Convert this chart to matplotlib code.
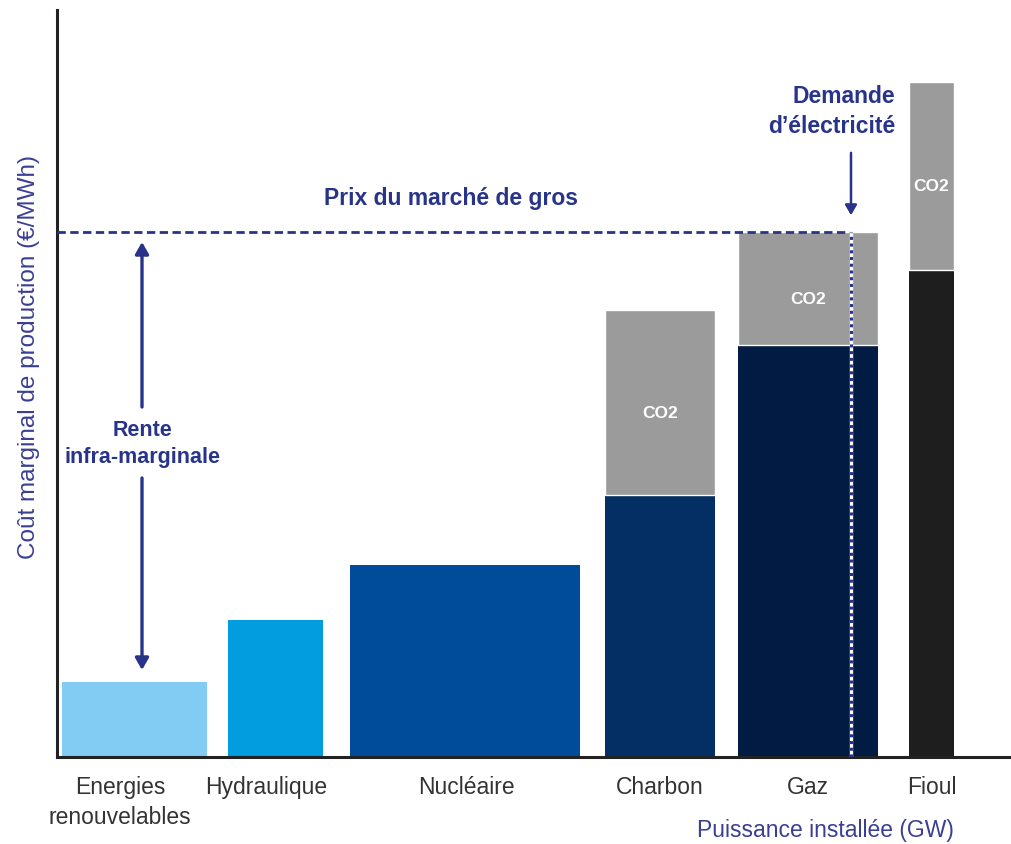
import matplotlib
matplotlib.use("Agg")
import matplotlib.pyplot as plt
import numpy as np

plt.rcParams['font.family'] = ['Liberation Sans', 'DejaVu Sans']

# --- data (arbitrary units) ---
categories = ["Energies\nrenouvelables", "Hydraulique", "Nucléaire", "Charbon", "Gaz", "Fioul"]
capacity_gw = [29, 19, 46, 22, 28, 9]          # bar widths
cost_base = [15, 27.5, 38.5, 52.5, 82.5, 97.5]  # marginal cost without CO2
cost_co2 = [0, 0, 0, 37, 22.5, 37.5]            # CO2 add-on
market_price = 105
demand_gw = 158.8

bar_colors = ["#82CBF2", "#019DDF", "#004C9A", "#032F64", "#021B42", "#1E1E1E"]
co2_color = "#9B9B9B"
navy = "#28348A"
label_blue = "#3B3F93"

# white space before each bar, and label shift (style only)
gaps = [1, 4.2, 5.4, 5, 4.6, 6.2]
label_shift = [-2.9, -1.9, 0.3, 0, 0, 0]

lefts = []
x = 0.0
for g, w in zip(gaps, capacity_gw):
    x += g
    lefts.append(x)
    x += w
lefts = np.array(lefts)
widths = np.array(capacity_gw)
centers = lefts + widths / 2

fig = plt.figure(figsize=(10.12, 8.44), dpi=100)
ax = fig.add_axes([57 / 1012, 87 / 844, 955 / 1012, 747 / 844])

ax.bar(lefts, cost_base, width=widths, align="edge", color=bar_colors, zorder=2)
has_co2 = [c > 0 for c in cost_co2]
ax.bar(lefts[has_co2], np.array(cost_co2)[has_co2], width=widths[has_co2],
       bottom=np.array(cost_base)[has_co2], align="edge", color=co2_color,
       edgecolor="white", linewidth=1.0, zorder=2)
for cx, b, c in zip(centers, cost_base, cost_co2):
    if c > 0:
        ax.text(cx, b + c / 2 - 2.2, "CO2", color="white", fontsize=12.5, fontweight="bold",
                ha="center", va="center", zorder=3)

# market price line and demand line
ax.plot([0, demand_gw], [market_price, market_price], color=navy, lw=2,
        ls=(0, (3, 1.6)), zorder=4)
ax.plot([demand_gw, demand_gw], [0, market_price], color="white", lw=2.4, zorder=4)
ax.plot([demand_gw, demand_gw], [0, market_price], color=navy, lw=2.2,
        ls=(0, (1, 1.2)), zorder=5)
ax.text(78.8, market_price + 6.6, "Prix du marché de gros",
        color=navy, fontsize=16.5, fontweight="bold", ha="center", va="center")

# demand annotation
ax.annotate("", xy=(demand_gw, market_price + 2.8), xytext=(demand_gw, 121.4),
            arrowprops=dict(arrowstyle="-|>,head_width=0.35,head_length=0.6",
                            color=navy, lw=1.8))
ax.text(demand_gw + 8.8, 123.8, "Demande\nd\u2019électricité", color=navy,
        fontsize=16.5, fontweight="bold", ha="right", va="bottom", linespacing=1.4)

# infra-marginal rent
rx = 17
arrow_kw = dict(arrowstyle="-|>,head_width=0.4,head_length=0.7",
                color=navy, lw=2.4, shrinkA=0, shrinkB=0)
ax.annotate("", xy=(rx, market_price - 2), xytext=(rx, 70), arrowprops=arrow_kw)
ax.annotate("", xy=(rx, cost_base[0] + 2.4), xytext=(rx, 55.8), arrowprops=arrow_kw)
ax.text(rx, 62.6, "Rente\ninfra-marginale", color=navy, fontsize=15.5,
        fontweight="bold", ha="center", va="center", linespacing=1.35)

ax.set_xlim(0, 191)
ax.set_ylim(0, 149.4)
ax.set_xticks(centers + np.array(label_shift))
ax.set_xticklabels(categories, fontsize=16.5, color="#333333", linespacing=1.35)
ax.set_yticks([])
ax.tick_params(axis="x", length=0, pad=14)
for s in ["top", "right"]:
    ax.spines[s].set_visible(False)
for s in ["left", "bottom"]:
    ax.spines[s].set_color("#222222")
    ax.spines[s].set_linewidth(2.2)

ax.set_ylabel("Coût marginal de production (€/MWh)", fontsize=17.5, color=label_blue)
ax.yaxis.set_label_coords(-0.018, 0.535)
ax.set_xlabel("Puissance installée (GW)", fontsize=16.5, color=label_blue)
ax.xaxis.set_label_coords(0.805, -0.083)

fig.savefig("out.png", dpi=100)
